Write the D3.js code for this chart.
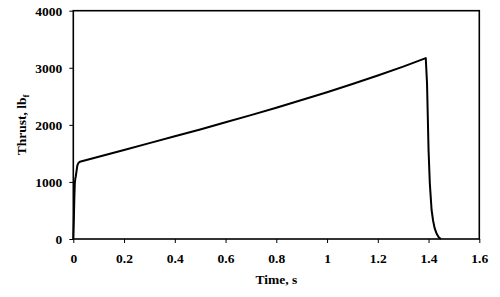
<!DOCTYPE html>
<html>
<head>
<meta charset="utf-8">
<script src="https://cdn.jsdelivr.net/npm/d3@7"></script>
<style>
  body { margin: 0; background: #fff; }
  text { font-family: "Liberation Serif", "Times New Roman", serif; font-weight: bold; }
</style>
</head>
<body>
<div id="chart"></div>
<script>
// thrust curve
const timeS = [0, 0.002, 0.004, 0.006, 0.008, 0.010, 0.013, 0.016, 0.020, 0.026,
  0.1, 0.2, 0.3, 0.4, 0.5, 0.6, 0.7, 0.8, 0.9, 1.0, 1.1, 1.2, 1.3, 1.389,
  1.394, 1.400, 1.405, 1.412, 1.418, 1.424, 1.432, 1.440, 1.449];
const thrustLbf = [0, 300, 700, 980, 1060, 1100, 1200, 1290, 1330, 1354,
  1440, 1560, 1680, 1800, 1920, 2045, 2170, 2300, 2435, 2570, 2715, 2865, 3020, 3170,
  2727, 1559, 975, 508, 320, 190, 90, 30, 0];

const xTicks = [0, 0.2, 0.4, 0.6, 0.8, 1, 1.2, 1.4, 1.6];
const yTicks = [0, 1000, 2000, 3000, 4000];

let width = 500, height = 297;
let margin = {left: 73.3, right: 20.7, top: 10.7, bottom: 58};

let svg = d3.select("#chart").append("svg")
  .attr("width", width).attr("height", height);

let xScale = d3.scaleLinear().domain([0, 1.6]).range([margin.left, width - margin.right]);
let yScale = d3.scaleLinear().domain([0, 4000]).range([height - margin.bottom, margin.top]);

// axes
let xAxis = d3.axisBottom(xScale).tickValues(xTicks).tickSize(4).tickSizeOuter(0)
  .tickFormat(d => String(+d.toFixed(1)));
let yAxis = d3.axisLeft(yScale).tickValues(yTicks).tickSize(4).tickSizeOuter(0)
  .tickFormat(d3.format("d"));

let gx = svg.append("g")
  .attr("transform", `translate(0,${yScale(0)})`)
  .call(xAxis);
let gy = svg.append("g")
  .attr("transform", `translate(${xScale(0)},0)`)
  .call(yAxis);

[gx, gy].forEach(g => {
  g.select(".domain").remove();
  g.selectAll("line").attr("stroke", "#000").attr("stroke-width", 1);
  g.selectAll("text").attr("font-size", 13.5).attr("fill", "#000")
    .style("font-family", "'Liberation Serif', serif").style("font-weight", "bold");
});
gx.selectAll("text").attr("dy", "0.71em").attr("y", 14);
gy.selectAll("text").attr("x", -11);

// plot frame
svg.append("rect")
  .attr("x", xScale(0)).attr("y", yScale(4000))
  .attr("width", xScale(1.6) - xScale(0))
  .attr("height", yScale(0) - yScale(4000))
  .attr("fill", "none").attr("stroke", "#000").attr("stroke-width", 1.6);

// thrust curve
let line = d3.line()
  .x((d, i) => xScale(timeS[i]))
  .y(d => yScale(d));

svg.append("path")
  .datum(thrustLbf)
  .attr("d", line)
  .attr("fill", "none")
  .attr("stroke", "#000")
  .attr("stroke-width", 2)
  .attr("stroke-linejoin", "round");

// axis titles
svg.append("text")
  .attr("x", (xScale(0) + xScale(1.6)) / 2)
  .attr("y", 284)
  .attr("text-anchor", "middle")
  .attr("font-size", 13.5)
  .text("Time, s");

let yt = svg.append("text")
  .attr("transform", `translate(26,${(yScale(0) + yScale(4000)) / 2}) rotate(-90)`)
  .attr("text-anchor", "middle")
  .attr("font-size", 13.5);
yt.append("tspan").text("Thrust, lb");
yt.append("tspan").attr("font-size", 9).attr("dy", 3).text("f");
</script>
</body>
</html>
